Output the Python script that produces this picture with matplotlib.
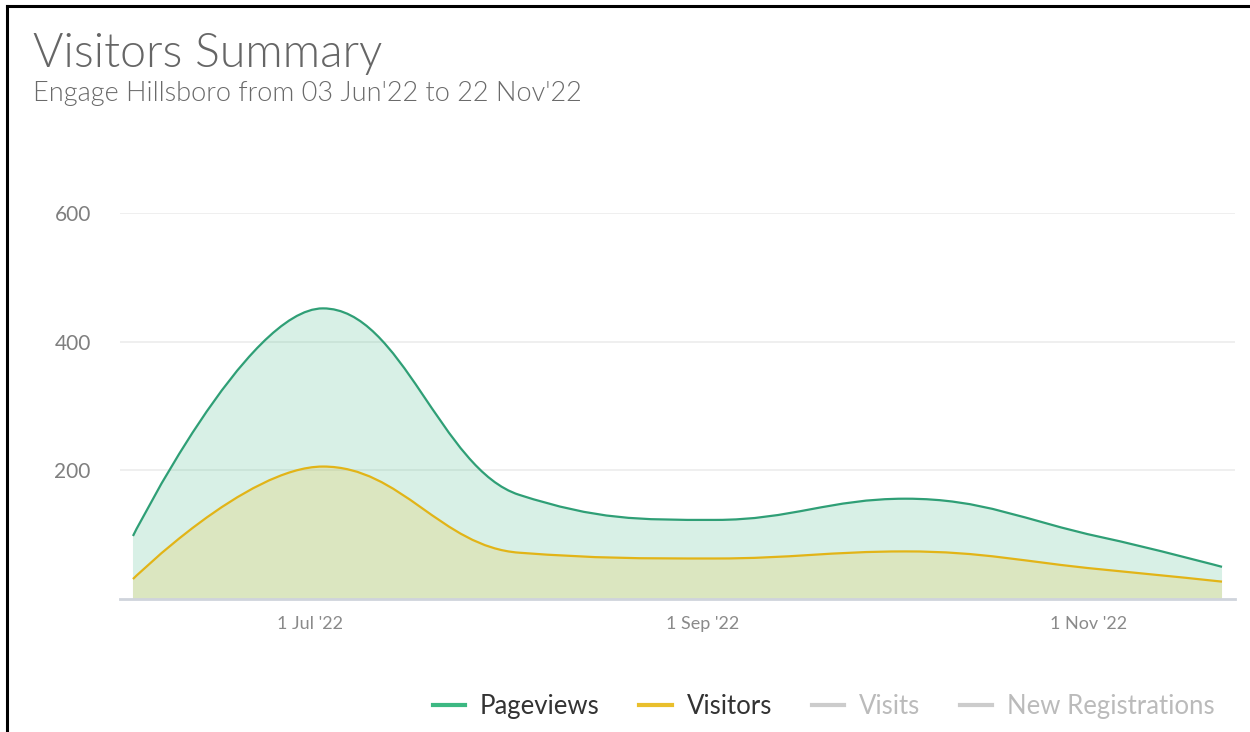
import datetime
import matplotlib
matplotlib.use("Agg")
import matplotlib.pyplot as plt
import matplotlib.dates as mdates
from matplotlib.path import Path
from matplotlib.patches import PathPatch
from matplotlib.lines import Line2D
from matplotlib.ticker import FuncFormatter

# monthly aggregates
dates = [datetime.date(2022, 6, 3), datetime.date(2022, 7, 3), datetime.date(2022, 8, 3),
         datetime.date(2022, 9, 3), datetime.date(2022, 10, 3), datetime.date(2022, 11, 3),
         datetime.date(2022, 11, 22)]
pageviews = [98, 452, 162, 123, 156, 96, 50]
visitors = [31, 206, 72, 63, 74, 46, 27]

series_names = ["Pageviews", "Visitors", "Visits", "New Registrations"]
series_colors = ["#3cb882", "#e9bf2c", "#cccccc", "#cccccc"]
label_colors = ["#333333", "#333333", "#bbbbbb", "#bbbbbb"]

FONT = ["Lato", "DejaVu Sans"]
plt.rcParams["font.family"] = FONT


def spline_verts(xs, ys, smoothing=1.5):
    """ control points the way highcharts does its spline """
    denom = smoothing + 1
    n = len(xs)
    lc = [None] * n
    rc = [None] * n
    for i in range(1, n - 1):
        px, py = xs[i], ys[i]
        lx, ly = xs[i - 1], ys[i - 1]
        nx, ny = xs[i + 1], ys[i + 1]
        lcx = (smoothing * px + lx) / denom
        lcy = (smoothing * py + ly) / denom
        rcx = (smoothing * px + nx) / denom
        rcy = (smoothing * py + ny) / denom
        corr = (rcy - lcy) * (rcx - px) / (rcx - lcx) + py - rcy
        lcy += corr
        rcy += corr
        if lcy > max(ly, py):
            lcy = max(ly, py); rcy = 2 * py - lcy
        elif lcy < min(ly, py):
            lcy = min(ly, py); rcy = 2 * py - lcy
        if rcy > max(py, ny):
            rcy = max(py, ny); lcy = 2 * py - rcy
        elif rcy < min(py, ny):
            rcy = min(py, ny); lcy = 2 * py - rcy
        lc[i] = (lcx, lcy)
        rc[i] = (rcx, rcy)
    verts = [(xs[0], ys[0])]
    codes = [Path.MOVETO]
    for i in range(1, n):
        c1 = rc[i - 1] or (xs[i - 1], ys[i - 1])
        c2 = lc[i] or (xs[i], ys[i])
        verts += [c1, c2, (xs[i], ys[i])]
        codes += [Path.CURVE4] * 3
    return verts, codes


fig = plt.figure(figsize=(12.5, 7.32), dpi=100)
ax = fig.add_axes([0.096, 0.1817, 0.892, 0.527])

xnum = list(mdates.date2num(dates))
for vals, col, lcol in [(pageviews, "#3cb882", "#2f9f76"), (visitors, "#e9bf2c", "#e2b417")]:
    verts, codes = spline_verts(xnum, vals)
    # area under the curve
    fverts = verts + [(xnum[-1], 0), (xnum[0], 0), verts[0]]
    fcodes = codes + [Path.LINETO, Path.LINETO, Path.CLOSEPOLY]
    ax.add_patch(PathPatch(Path(fverts, fcodes), facecolor=col, alpha=0.2,
                           edgecolor="none", zorder=2))
    ax.add_patch(PathPatch(Path(verts, codes), facecolor="none", edgecolor=lcol,
                           lw=1.6, zorder=3))

pad = 2.05
ax.set_xlim(xnum[0] - pad, xnum[-1] + pad)
ax.set_ylim(0, 600)
ax.set_yticks([200, 400, 600])
ax.yaxis.grid(True, color="#ececec", lw=1.2)
ax.set_axisbelow(True)

ax.xaxis.set_major_locator(mdates.MonthLocator(bymonth=[7, 9, 11], bymonthday=1))
ax.xaxis.set_major_formatter(FuncFormatter(
    lambda v, p: "%d %s '%s" % (mdates.num2date(v).day, mdates.num2date(v).strftime("%b"),
                                mdates.num2date(v).strftime("%y"))))

for s in ["top", "right", "left"]:
    ax.spines[s].set_visible(False)
ax.spines["bottom"].set_color("#cfd4dc")
ax.spines["bottom"].set_linewidth(2)
ax.tick_params(axis="y", length=0, pad=21, labelsize=15, labelcolor="#7f7f7f")
ax.tick_params(axis="x", length=0, pad=12, labelsize=13, labelcolor="#8a8a8a")

fig.text(0.0264, 0.909, "Visitors Summary", fontsize=33.5, fontweight=300,
         color="#666666", va="baseline")
fig.text(0.0264, 0.862, "Engage Hillsboro from 03 Jun'22 to 22 Nov'22", fontsize=19.5,
         fontweight=300, color="#6a6a6a", va="baseline")

# frame edges visible on the screenshot
fig.add_artist(Line2D([0.0056, 0.0056], [0, 0.992], color="black", lw=2.2,
                      transform=fig.transFigure))
fig.add_artist(Line2D([0.0056, 1.0], [0.992, 0.992], color="black", lw=2.2,
                      transform=fig.transFigure))

handles = [Line2D([], [], color=c, lw=3) for c in series_colors]
leg = fig.legend(handles, series_names, loc="center", ncol=4, frameon=False,
                 bbox_to_anchor=(0.659, 0.0355), fontsize=18.5, handlelength=1.25,
                 handletextpad=0.58, columnspacing=1.56)
for t, c in zip(leg.get_texts(), label_colors):
    t.set_color(c)

fig.savefig("out.png", dpi=100)
